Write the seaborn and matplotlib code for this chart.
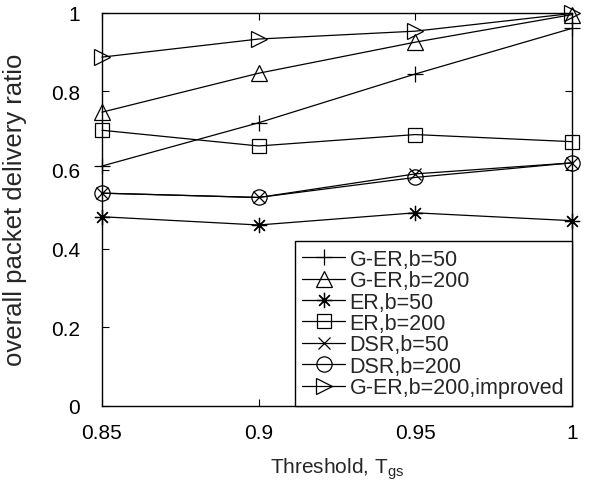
import numpy as np
import pandas as pd
import matplotlib
matplotlib.use("Agg")
import matplotlib.pyplot as plt
import seaborn as sns

# Data
thresholds = [0.85, 0.9, 0.95, 1.0]
series_names = ["G-ER,b=50", "G-ER,b=200", "ER,b=50", "ER,b=200",
                "DSR,b=50", "DSR,b=200", "G-ER,b=200,improved"]
g_er_50 = [0.610, 0.720, 0.844, 0.960]
g_er_200 = [0.747, 0.846, 0.925, 0.995]
er_50 = [0.481, 0.460, 0.491, 0.471]
er_200 = [0.701, 0.661, 0.690, 0.672]
dsr_50 = [0.541, 0.530, 0.590, 0.618]
dsr_200 = [0.541, 0.530, 0.581, 0.618]
g_er_200_imp = [0.887, 0.933, 0.953, 0.998]

series_values = [g_er_50, g_er_200, er_50, er_200, dsr_50, dsr_200, g_er_200_imp]
markers = ["+", "^", (8, 2, 0), "s", "x", "o", ">"]
sizes = [12, 12, 11, 10, 9, 11, 12]

sns.set_theme(style="ticks")
plt.rcParams["font.family"] = ["Liberation Sans", "DejaVu Sans"]

fig = plt.figure(figsize=(6, 4.89), dpi=100)
ax = fig.add_axes([0.17, 0.168, 0.783, 0.804])

for name, vals, mk, ms in zip(series_names, series_values, markers, sizes):
    df = pd.DataFrame({"x": thresholds, "y": vals})
    sns.lineplot(data=df, x="x", y="y", ax=ax, color="black", linewidth=0.9,
                 marker=mk, markersize=ms, markerfacecolor="none",
                 markeredgecolor="black", markeredgewidth=0.9, label=name,
                 clip_on=False)

ax.set_xlim(0.85, 1.0)
ax.set_ylim(0, 1)
ax.set_xticks([0.85, 0.9, 0.95, 1.0])
ax.set_xticklabels(["0.85", "0.9", "0.95", "1"])
ax.set_yticks([0, 0.2, 0.4, 0.6, 0.8, 1.0])
ax.set_yticklabels(["0", "0.2", "0.4", "0.6", "0.8", "1"])
ax.tick_params(direction="in", top=True, right=True, length=5, width=0.8,
               labelsize=15, colors="black")
ax.tick_params(axis="x", pad=12)
ax.tick_params(axis="y", pad=16)
for sp in ax.spines.values():
    sp.set_color("black")
    sp.set_linewidth(1.0)

ax.set_xlabel("Threshold, T$_{\\mathregular{gs}}$", fontsize=15, labelpad=10)
ax.set_ylabel("overall packet delivery ratio", fontsize=18.5)
ax.yaxis.set_label_coords(-0.16, 0.5)

leg = ax.legend(loc="lower right", fontsize=15.5, frameon=True, fancybox=False,
                borderaxespad=0, handlelength=2.0, handletextpad=0.2,
                labelspacing=0.02, borderpad=0.35)
leg.get_frame().set_edgecolor("black")
leg.get_frame().set_linewidth(1.0)
leg.get_frame().set_alpha(1)
leg.set_zorder(5)

fig.savefig("out.png", dpi=100)
